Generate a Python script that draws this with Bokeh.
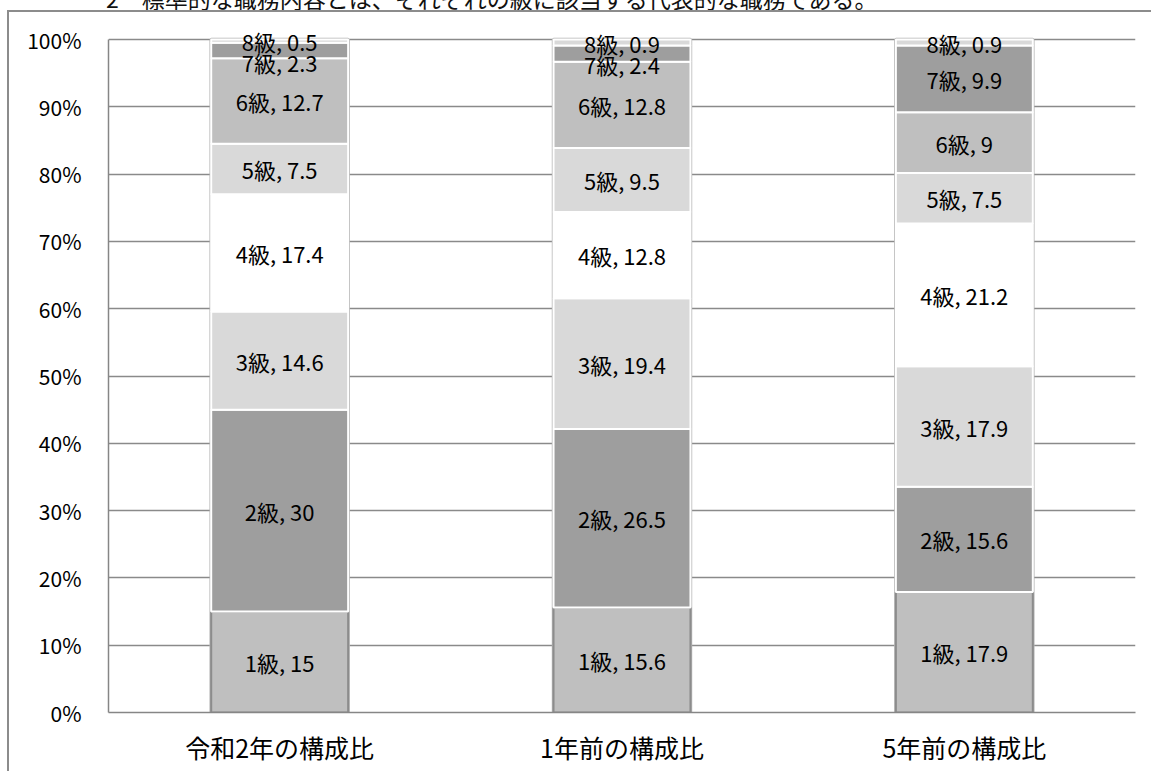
from bokeh.plotting import figure
from bokeh.layouts import column
from bokeh.models import (ColumnDataSource, FactorRange, Range1d, NumeralTickFormatter,
                          FixedTicker, Div)
from bokeh.core.properties import value
from bokeh.embed import file_html
from bokeh.resources import INLINE

# ---------------- data ----------------
categories = ["令和2年の構成比", "1年前の構成比", "5年前の構成比"]
grades = ["1級", "2級", "3級", "4級", "5級", "6級", "7級", "8級"]
reiwa2 = [15, 30, 14.6, 17.4, 7.5, 12.7, 2.3, 0.5]
one_year_ago = [15.6, 26.5, 19.4, 12.8, 9.5, 12.8, 2.4, 0.9]
five_years_ago = [17.9, 15.6, 17.9, 21.2, 7.5, 9, 9.9, 0.9]
y_ticks = [0, 0.1, 0.2, 0.3, 0.4, 0.5, 0.6, 0.7, 0.8, 0.9, 1.0]
note_text = "2　標準的な職務内容とは、それぞれの級に該当する代表的な職務である。"

series = [reiwa2, one_year_ago, five_years_ago]

# ---------------- style ----------------
colors = ["#bfbfbf", "#9e9e9e", "#d9d9d9", "#ffffff", "#d9d9d9", "#bfbfbf", "#9e9e9e", "#d9d9d9"]
W, H = 1151, 771
NOTE_H = 10
PH = H - NOTE_H
FL, FR, FB = 108, 16, 59
UNIT_PX = 673          # pixels from 0% to 100%
HEAD_PX = 16           # room above 100% so top labels are not clipped
FT = PH - FB - UNIT_PX - HEAD_PX
Y_END = 1 + HEAD_PX / UNIT_PX
FONT = "Noto Sans CJK JP"
BAR_W = 0.4
GRAY = "#8c8c8c"

# ---------------- build segments ----------------
seg = dict(x=[], bottom=[], top=[], color=[], line=[])
lab = dict(x=[], y=[], text=[])
min_gap = 21.0 / UNIT_PX
for cat, vals in zip(categories, series):
    total = sum(vals)
    cum = 0.0
    centers = []
    for g, v, c in zip(grades, vals, colors):
        b = cum / total
        cum += v
        t = cum / total
        seg["x"].append(cat)
        seg["bottom"].append(b)
        seg["top"].append(t)
        seg["color"].append(c)
        seg["line"].append("#8c8c8c" if g == "1級" else "#ffffff")
        centers.append((b + t) / 2)
    # resolve overlapping labels from the top down
    pos = list(centers)
    for i in range(len(pos) - 2, -1, -1):
        if pos[i + 1] - pos[i] < min_gap:
            pos[i] = pos[i + 1] - min_gap
    for g, v, y in zip(grades, vals, pos):
        lab["x"].append(cat)
        lab["y"].append(y)
        lab["text"].append(f"{g}, {v:g}")

p = figure(width=W, height=PH, x_range=FactorRange(factors=categories),
           y_range=Range1d(0, Y_END), output_backend="svg", toolbar_location=None,
           min_border_left=FL, min_border_right=FR, min_border_top=FT, min_border_bottom=FB)
p.background_fill_color = "white"
p.border_fill_color = None
p.outline_line_color = None
p.margin = (0, 0, 0, 0)
p.styles = {
    "background": (f"linear-gradient({GRAY},{GRAY}) 7px 0px / 2px 100% no-repeat, "
                   f"linear-gradient({GRAY},{GRAY}) 7px 0px / 100% 2px no-repeat, #ffffff"),
}

# shadow / outline behind each bar
p.vbar(x=categories, bottom=0, top=1, width=BAR_W, fill_color=None,
       line_color="#b5b5b5", line_width=3.5)
p.vbar(x="x", bottom="bottom", top="top", width=BAR_W, fill_color="color",
       line_color="line", line_width=2, source=ColumnDataSource(seg))
p.text(x="x", y="y", text="text", source=ColumnDataSource(lab),
       text_align="center", text_baseline="middle", text_font=value(FONT),
       text_font_size="22px", text_color="#000000")

# axes
p.yaxis.ticker = FixedTicker(ticks=y_ticks)
p.yaxis.formatter = NumeralTickFormatter(format="0%")
p.yaxis.bounds = (0, 1)
p.yaxis.major_tick_line_color = None
p.yaxis.minor_tick_line_color = None
p.yaxis.axis_line_color = "#868686"
p.yaxis.axis_line_width = 1.5
p.yaxis.major_label_standoff = 21
p.yaxis.major_label_text_font = FONT
p.yaxis.major_label_text_font_size = "21px"
p.yaxis.major_label_text_color = "#000000"

p.xaxis.major_tick_line_color = None
p.xaxis.minor_tick_line_color = None
p.xaxis.axis_line_color = "#868686"
p.xaxis.axis_line_width = 1.5
p.xaxis.major_label_standoff = 10
p.xaxis.major_label_text_font = FONT
p.xaxis.major_label_text_font_size = "25px"
p.xaxis.major_label_text_color = "#000000"

p.xgrid.grid_line_color = None
p.ygrid.grid_line_color = "#8a8a8a"
p.ygrid.grid_line_width = 1.5

# note text, of which only the lower part is visible above the chart border
note = Div(
    text=(f'<div style="position:relative; top:-13px; left:106px; font-size:23px; '
          f'line-height:23px; font-family:\'{FONT}\'; color:#111; white-space:nowrap;">'
          f'{note_text}</div>'),
    width=W, height=NOTE_H, margin=(0, 0, 0, 0),
    styles={"overflow": "hidden"},
)

layout = column(note, p, spacing=0, margin=(0, 0, 0, 0))
open("out.html", "w").write(file_html(layout, INLINE))
